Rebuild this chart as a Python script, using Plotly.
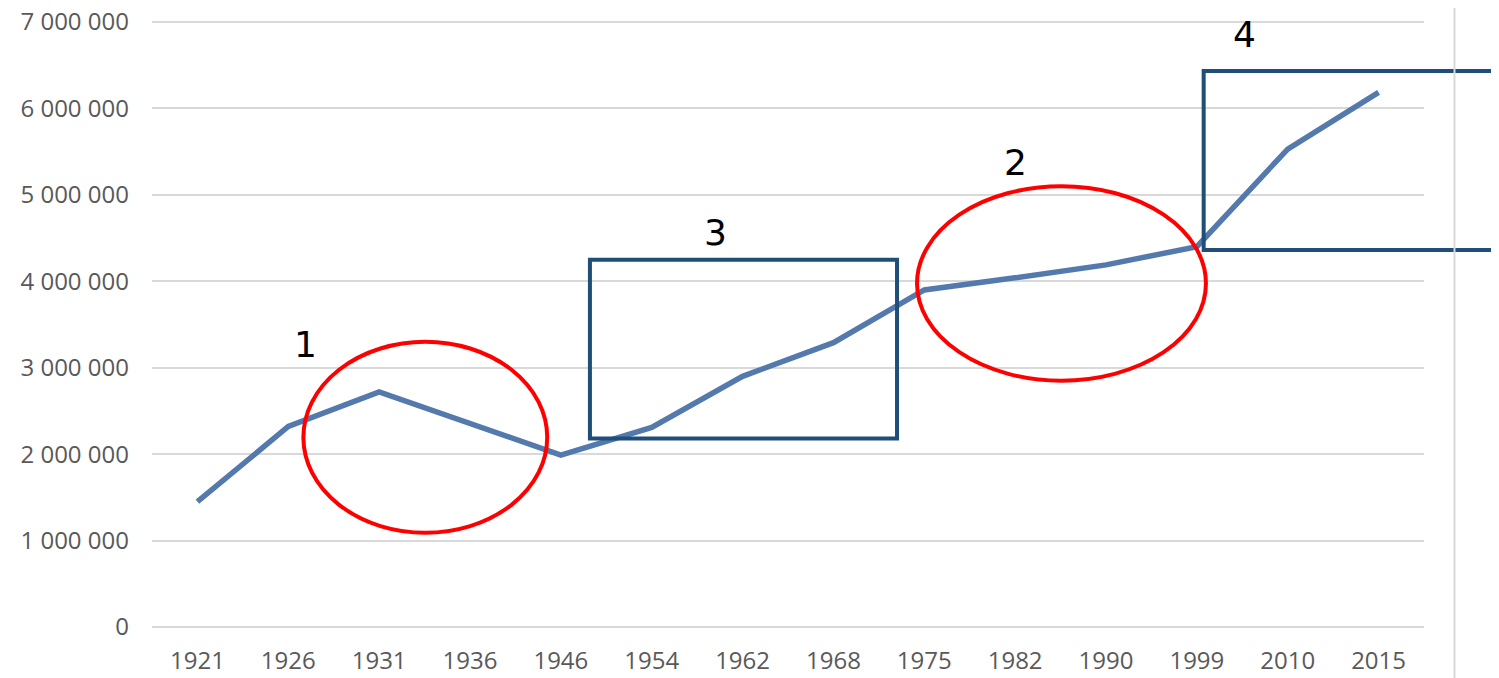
import plotly.graph_objects as go

years = ["1921", "1926", "1931", "1936", "1946", "1954", "1962", "1968",
         "1975", "1982", "1990", "1999", "2010", "2015"]
population = [1450000, 2320000, 2720000, 2360000, 1990000, 2310000, 2900000,
              3290000, 3900000, 4040000, 4190000, 4400000, 5530000, 6185000]
y_ticks = [0, 1000000, 2000000, 3000000, 4000000, 5000000, 6000000, 7000000]
y_tick_labels = ["0", "1 000 000", "2 000 000", "3 000 000", "4 000 000",
                 "5 000 000", "6 000 000", "7 000 000"]
marker_labels = ["1", "2", "3", "4"]

W, H = 1499, 678
OFF = 8  # page body margin
# desired plot area in page pixels (2px slack at top/bottom so edge gridlines are drawn)
PL, PR, PT, PB = 151.5, 1424.5, 20, 629
L, R, T, B = PL - OFF, W - (PR - OFF), PT - OFF, H - (PB - OFF)
pw, ph = PR - PL, PB - PT
pad_val = 2 * 7000000 / (ph - 4)

def px(x):
    return (x - PL) / pw

def py(y):
    return (PB - y) / ph

fig = go.Figure()
fig.add_trace(go.Scatter(
    x=years, y=population, mode="lines",
    line=dict(color="#5479AC", width=5.5),
    showlegend=False, hoverinfo="x+y",
))

red = "#FF0000"
navy = "#1F4E79"
shapes = [
    dict(type="circle", xref="x", yref="y", x0=1.166, x1=3.85, y0=1090000, y1=3300000,
         line=dict(color=red, width=4)),
    dict(type="circle", xref="x", yref="y", x0=7.92, x1=11.10, y0=2850000, y1=5100000,
         line=dict(color=red, width=4)),
    dict(type="rect", xref="x", yref="y", x0=4.32, x1=7.70, y0=2180000, y1=4250000,
         line=dict(color=navy, width=4)),
    dict(type="rect", xref="paper", yref="paper", x0=px(1204), x1=px(1515), y0=py(250), y1=py(71),
         line=dict(color=navy, width=4)),
    dict(type="line", xref="paper", yref="paper", x0=px(1455), x1=px(1455), y0=py(700), y1=py(-10),
         line=dict(color="#D9D9D9", width=2)),
]

ann_pos = [(1.19, 3270000), (9.0, 5380000), (5.70, 4570000), (11.52, 6860000)]
annotations = []
for lbl, (ax, ay) in zip(marker_labels, ann_pos):
    annotations.append(dict(x=ax, y=ay, xref="x", yref="y", text=lbl, showarrow=False,
                            font=dict(family="DejaVu Sans", size=36, color="#000000")))

fig.update_layout(
    template="none",
    width=W, height=H,
    margin=dict(l=L, r=R, t=T, b=B, pad=0, autoexpand=False),
    paper_bgcolor="white", plot_bgcolor="white",
    shapes=shapes, annotations=annotations,
    font=dict(family="Open Sans", color="#595959", size=24),
    xaxis=dict(type="category", range=[-0.5, 13.5], showgrid=False, zeroline=False,
               showline=False, automargin=False,
               ticks="", tickfont=dict(size=24, color="#595959"),
               ticklabelstandoff=15, ticklabeloverflow="allow"),
    yaxis=dict(range=[-pad_val, 7000000 + pad_val], tickvals=y_ticks, ticktext=y_tick_labels,
               showgrid=True, gridcolor="#D9D9D9", gridwidth=2, zeroline=False,
               showline=False, automargin=False, ticks="",
               tickfont=dict(size=24, color="#595959"),
               ticklabelstandoff=22, ticklabeloverflow="allow"),
)

fig.write_html("out.html")
